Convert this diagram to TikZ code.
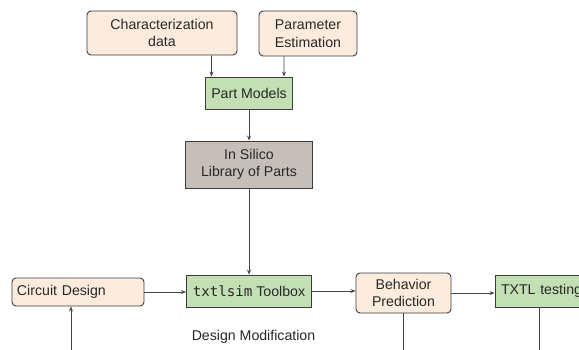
\documentclass[tikz,border=0pt]{standalone}
\usepackage{fontspec}
\setmainfont{Liberation Sans}
\newfontfamily\codefont{DejaVu Sans Mono}
\usetikzlibrary{arrows.meta}
\definecolor{peach}{RGB}{253,236,221}
\definecolor{leaf}{RGB}{195,224,181}
\definecolor{stone}{RGB}{198,190,184}
\definecolor{edge}{RGB}{60,60,60}
\definecolor{wire}{RGB}{70,70,70}
\definecolor{ink}{RGB}{40,40,40}
\tikzset{
  box/.style={draw=edge, line width=0.9bp, inner sep=0pt, align=center,
    text=ink, font=\fontsize{14.2}{17.5}\selectfont},
  softbox/.style={box, fill=peach, rounded corners=4bp},
  greenbox/.style={box, fill=leaf},
  greybox/.style={box, fill=stone},
  conn/.style={draw=wire, line width=0.8bp, -{Stealth[length=5bp,width=4bp]}},
  plainconn/.style={draw=wire, line width=0.8bp},
}
\begin{document}
\begin{tikzpicture}[x=1bp,y=-1bp]
\clip (0,0) rectangle (579,349);
\fill[white] (0,0) rectangle (579,349);

\node[softbox, minimum width=150bp, minimum height=44bp] (char) at (162,33) {Characterization\\data};
\node[softbox, minimum width=98bp, minimum height=45bp] (param) at (308,33.5) {Parameter\\Estimation};
\node[greenbox, minimum width=87bp, minimum height=32bp] (pm) at (249,93) {Part Models};
\node[greybox, minimum width=127bp, minimum height=47bp] (lib) at (249,164.5) {In Silico\\Library of Parts};
\node[softbox, minimum height=28bp, text width=122bp, inner xsep=5bp, align=left] (cd) at (78,292) {Circuit Design};
\node[greenbox, minimum width=125bp, minimum height=32bp] (tx) at (249,291) {{\codefont txtlsim} Toolbox};
\node[softbox, minimum width=95bp, minimum height=40bp] (bp) at (403.5,293) {Behavior\\Prediction};
\node[greenbox, minimum height=32bp, text width=86bp, inner xsep=6bp, align=left] (tt) at (544,291) {TXTL testing};
\node[text=ink, font=\fontsize{14.2}{17.5}\selectfont, inner sep=0pt] (dm) at (253.5,337) {Design Modification};

\coordinate (b1) at (71,360);
\coordinate (b2) at (403.5,360);
\coordinate (b3) at (539,360);

\draw[conn] ([xshift=49.5bp]char.south) -- ([xshift=-37.5bp]pm.north);
\draw[conn] ([xshift=-24bp]param.south) -- ([xshift=35bp]pm.north);
\draw[conn] (pm.south) -- (lib.north);
\draw[conn] (lib.south) -- (tx.north);
\draw[conn] (cd.east) -- (cd.east -| tx.west);
\draw[conn] (tx.east) -- (tx.east -| bp.west);
\draw[conn] (bp.east) -- (bp.east -| tt.west);
\draw[conn] (b1) -- (b1 |- cd.south);
\draw[plainconn] (bp.south) -- (b2);
\draw[plainconn] (tt.south -| b3) -- (b3);
\end{tikzpicture}
\end{document}
